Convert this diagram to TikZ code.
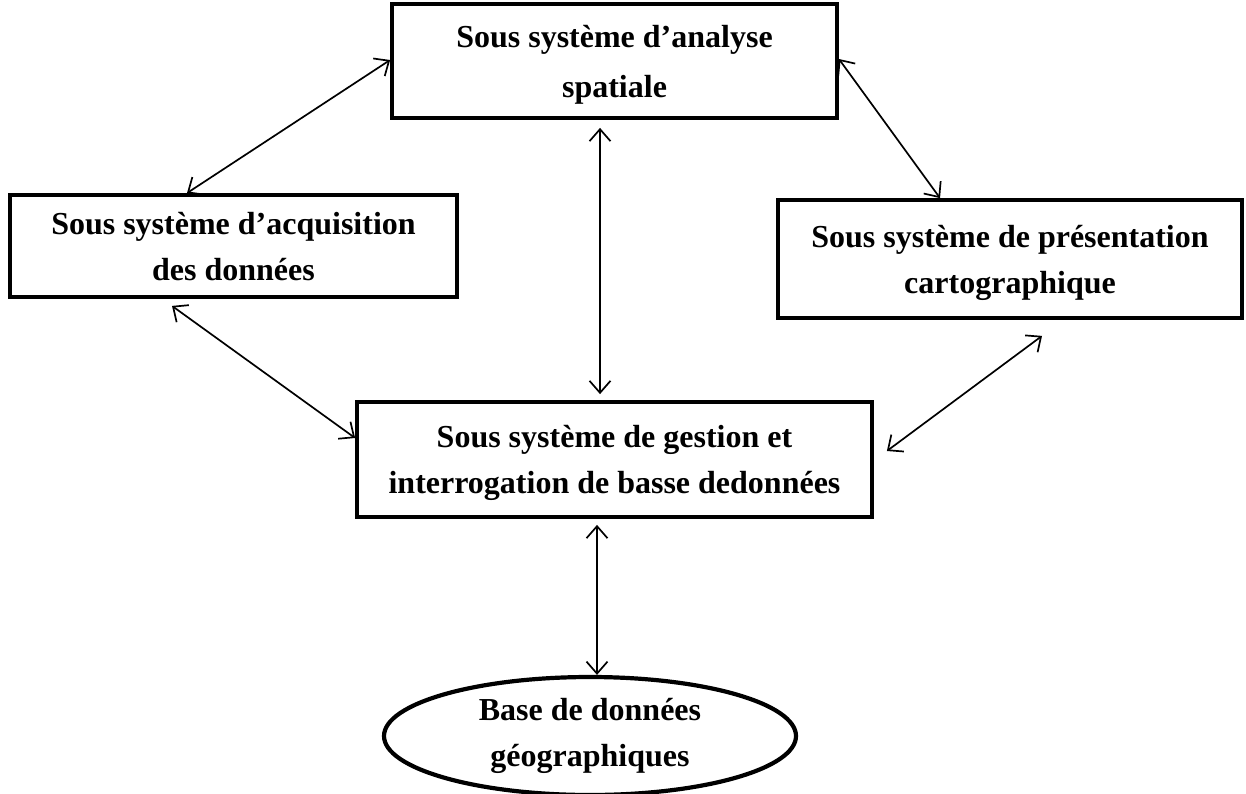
\documentclass[tikz,border=0pt]{standalone}
\usepackage{fontspec}
\setmainfont{Liberation Serif}
\usetikzlibrary{arrows.meta,shapes.geometric}
\tikzset{
  box/.style={draw, line width=3.8pt, rectangle, inner sep=0pt, align=center, text depth=0pt,
    font=\fontsize{32}{46}\selectfont\bfseries},
  dbell/.style={draw, line width=4.2pt, ellipse, inner sep=0pt, align=center,
    font=\fontsize{32}{46}\selectfont\bfseries},
  link/.style={line width=1.7pt, {Straight Barb[length=12pt,width=21pt]}-{Straight Barb[length=12pt,width=21pt]}}
}
\begin{document}
\begin{tikzpicture}[x=1pt,y=-1pt]
\useasboundingbox (0,0) rectangle (1246,794);
\node[box, minimum width=445pt, minimum height=114pt, font=\fontsize{32}{50}\selectfont\bfseries] (top) at (614.5,61) {Sous système d’analyse\\spatiale};
\node[box, minimum width=447pt, minimum height=102pt] (left) at (233.5,246) {Sous système d’acquisition\\des données};
\node[box, minimum width=464pt, minimum height=118pt] (right) at (1010,259) {Sous système de présentation\\cartographique};
\node[box, minimum width=515pt, minimum height=115pt] (mid) at (614.5,459.5) {Sous système de gestion et\\interrogation de basse dedonnées};
\node[dbell, minimum width=412pt, minimum height=118pt] (db) at (590,736) {Base de données\\géographiques};

\draw[link] ([yshift=1pt]top.west) -- ([xshift=-46.5pt]left.north);
\draw[link] ([yshift=2pt]top.east) -- ([xshift=-70pt]right.north);
\draw[link] ([xshift=-14.5pt,yshift=-8pt]top.south) -- ([xshift=-14.5pt,yshift=6pt]mid.north);
\draw[link] ([xshift=-61.5pt,yshift=-7pt]left.south) -- ([yshift=21.5pt]mid.west);
\draw[link] ([xshift=32pt,yshift=-16pt]right.south) -- ([xshift=13pt,yshift=8.5pt]mid.east);
\draw[link] ([xshift=-17.5pt,yshift=-6pt]mid.south) -- ([xshift=7pt]db.north);
\end{tikzpicture}
\end{document}
